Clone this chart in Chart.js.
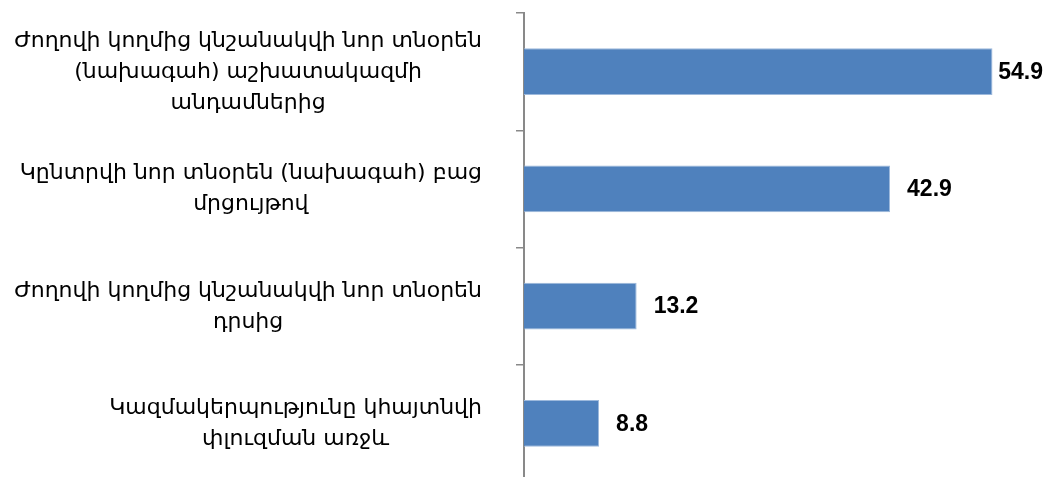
<!DOCTYPE html>
<html lang="hy">
<head>
<meta charset="UTF-8">
<title>Chart</title>
<script src="https://cdn.jsdelivr.net/npm/chart.js"></script>
<style>
  html, body { margin: 0; padding: 0; overflow: hidden; background: #fff; }
</style>
</head>
<body>
<canvas id="chart" width="1046" height="482"></canvas>
<script>
// categories, each split into the lines shown in the picture
const categories = [
    ['Ժողովի կողմից կնշանակվի նոր տնօրեն', '(նախագահ) աշխատակազմի', 'անդամներից'],
    ['Կընտրվի նոր տնօրեն (նախագահ) բաց', 'մրցույթով'],
    ['Ժողովի կողմից կնշանակվի նոր տնօրեն', 'դրսից'],
    ['Կազմակերպությունը կհայտնվի', 'փլուզման առջև']
];
const values = [54.9, 42.9, 13.2, 8.8];

const labelFont = '22px "DejaVu Sans"';
const valueFont = 'bold 23px "Liberation Sans"';

// category labels: block right-aligned next to the axis, lines centred in the block
const categoryLabels = {
    id: 'categoryLabels',
    afterDraw(chart) {
        const ctx = chart.ctx;
        const yScale = chart.scales.y;
        ctx.save();
        ctx.font = labelFont;
        ctx.fillStyle = '#000';
        ctx.textAlign = 'center';
        ctx.textBaseline = 'alphabetic';
        categories.forEach((lines, i) => {
            const yc = yScale.getPixelForTick(i);
            const maxW = Math.max(...lines.map(l => ctx.measureText(l).width));
            const cx = yScale.right - 42 - maxW / 2;
            lines.forEach((l, j) => {
                ctx.fillText(l, cx, yc + (j - (lines.length - 1) / 2) * 31 + 6);
            });
        });
        ctx.restore();
    }
};

// value labels to the right of the bars
const valueLabels = {
    id: 'valueLabels',
    afterDatasetsDraw(chart) {
        const ctx = chart.ctx;
        const meta = chart.getDatasetMeta(0);
        ctx.save();
        ctx.font = valueFont;
        ctx.fillStyle = '#000';
        ctx.textAlign = 'left';
        ctx.textBaseline = 'middle';
        meta.data.forEach((bar, i) => {
            const txt = values[i].toFixed(1);
            const w = ctx.measureText(txt).width;
            const x = Math.min(bar.x + 17, chart.width - w - 3);
            ctx.fillText(txt, x, bar.y + 1);
        });
        ctx.restore();
    }
};

new Chart(document.getElementById('chart'), {
    type: 'bar',
    data: {
        labels: categories,
        datasets: [{
            data: values,
            backgroundColor: '#4F81BD',
            borderColor: '#9DB9DC',
            borderWidth: 1,
            categoryPercentage: 1,
            barPercentage: 0.4
        }]
    },
    options: {
        indexAxis: 'y',
        responsive: false,
        animation: false,
        layout: { padding: { top: 13, right: 10, bottom: 0, left: 0 } },
        plugins: {
            legend: { display: false },
            tooltip: { enabled: false }
        },
        scales: {
            x: {
                display: false,
                min: 0,
                max: 60
            },
            y: {
                afterFit(scale) { scale.width = 524; },
                ticks: { display: false },
                grid: {
                    offset: true,
                    drawOnChartArea: false,
                    tickLength: 8,
                    color: '#898989',
                    lineWidth: 1.5
                },
                border: { color: '#898989', width: 2 }
            }
        }
    },
    plugins: [categoryLabels, valueLabels]
});
</script>
</body>
</html>
